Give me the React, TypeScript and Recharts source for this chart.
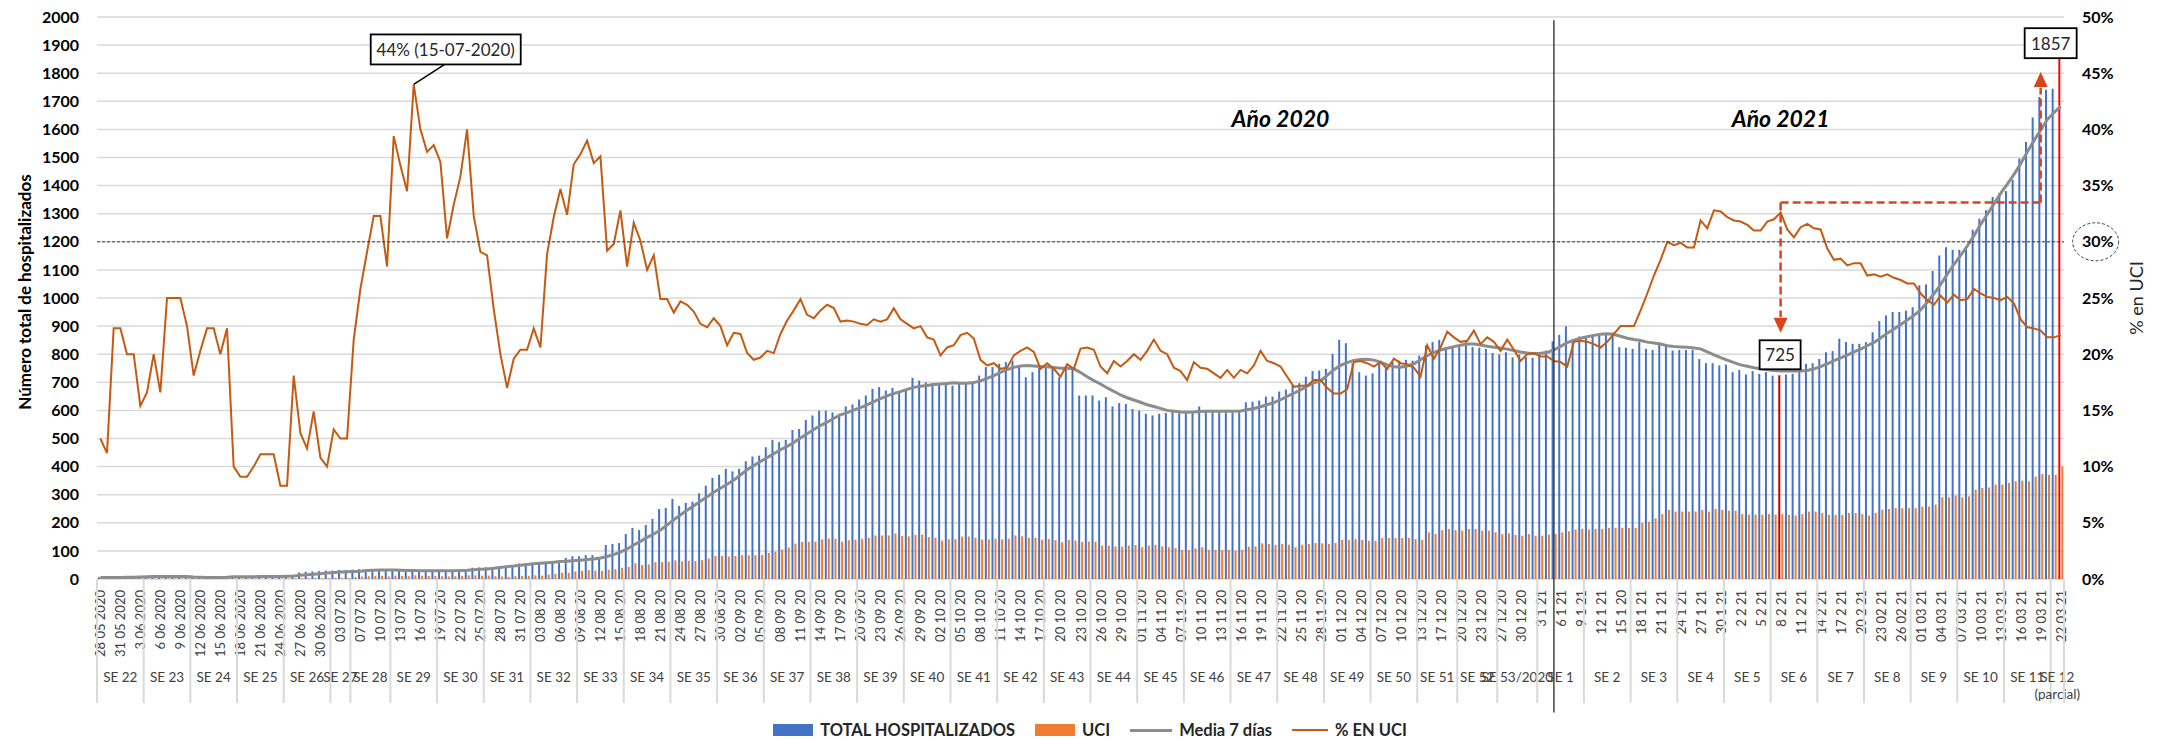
import React from 'react';
import {
  ComposedChart, Bar, Line, XAxis, YAxis, CartesianGrid, Legend, Cell, Label,
  ReferenceLine, ReferenceDot,
} from 'recharts';

const FONT = 'Lato, "Liberation Sans", sans-serif';
const BLUE = '#4472C4';
const ORANGE = '#ED7D31';
const GRAY = '#8c8c8c';
const PCT_COLOR = '#C55A11';
const ARROW = '#D9441A';

// shown date labels (one every 3rd category)
const TICK_LABELS = [
  '28 05 2020', '31 05 2020', '3 06 2020', '6 06 2020', '9 06 2020', '12 06 2020', '15 06 2020', '18 06 2020',
  '21 06 2020', '24 06 2020', '27 06 2020', '30 06 2020', '03 07 20', '07 07 20', '10 07 20', '13 07 20',
  '16 07 20', '19 07 20', '22 07 20', '25 07 20', '28 07 20', '31 07 20', '03 08 20', '06 08 20', '09 08 20',
  '12 08 20', '15 08 20', '18 08 20', '21 08 20', '24 08 20', '27 08 20', '30 08 20', '02 09 20', '05 09 20',
  '08 09 20', '11 09 20', '14 09 20', '17 09 20', '20 09 20', '23 09 20', '26 09 20', '29 09 20', '02 10 20',
  '05 10 20', '08 10 20', '11 10 20', '14 10 20', '17 10 20', '20 10 20', '23 10 20', '26 10 20', '29 10 20',
  '01 11 20', '04 11 20', '07 11 20', '10 11 20', '13 11 20', '16 11 20', '19 11 20', '22 11 20', '25 11 20',
  '28 11 20', '01 12 20', '04 12 20', '07 12 20', '10 12 20', '13 12 20', '17 12 20', '20 12 20', '23 12 20',
  '27 12 20', '30 12 20', '3 1 21', '6 1 21', '9 1 21', '12 1 21', '15 1 20', '18 1 21', '21 1 21', '24 1 21',
  '27 1 21', '30 1 21', '2 2 21', '5 2 21', '8 2 21', '11 2 21', '14 2 21', '17 2 21', '20 2 21', '23 02 21',
  '26 02 21', '01 03 21', '04 03 21', '07 03 21', '10 03 21', '13 03 21', '16 03 21', '19 03 21', '22 03 21',
];

const WEEK_LABELS = [
  'SE 22', 'SE 23', 'SE 24', 'SE 25', 'SE 26', 'SE 27', 'SE 28', 'SE 29', 'SE 30', 'SE 31', 'SE 32', 'SE 33',
  'SE 34', 'SE 35', 'SE 36', 'SE 37', 'SE 38', 'SE 39', 'SE 40', 'SE 41', 'SE 42', 'SE 43', 'SE 44', 'SE 45',
  'SE 46', 'SE 47', 'SE 48', 'SE 49', 'SE 50', 'SE 51', 'SE 52', 'SE 53/2020', 'SE 1', 'SE 2', 'SE 3', 'SE 4',
  'SE 5', 'SE 6', 'SE 7', 'SE 8', 'SE 9', 'SE 10', 'SE 11', 'SE 12',
];
const WEEK_SIZES = [
  7, 7, 7, 7, 7, 3, 6, 7, 7, 7, 7, 7, 7, 7, 7, 7, 7, 7, 7, 7, 7, 7, 7, 7, 7, 7, 7, 7, 7, 6, 6, 6,
  7, 7, 7, 7, 7, 7, 7, 7, 7, 7, 7, 2,
];

const TOTAL = [
  6, 7, 7, 7, 8, 8, 8, 10, 9, 9,
  10, 9, 8, 9, 7, 6, 6, 6, 7, 7,
  8, 8, 8, 9, 9, 9, 9, 10, 10, 11,
  23, 26, 27, 28, 30, 30, 32, 32, 33, 35,
  34, 34, 34, 32, 30, 30, 29, 30, 30, 29,
  28, 27, 30, 30, 31, 33, 40, 41, 42, 40,
  45, 47, 50, 55, 56, 58, 56, 56, 56, 65,
  75, 81, 81, 85, 85, 77, 121, 125, 128, 160,
  182, 174, 192, 214, 249, 253, 285, 260, 271, 275,
  305, 332, 360, 371, 392, 383, 392, 419, 436, 439,
  469, 495, 487, 495, 530, 534, 566, 582, 599, 599,
  593, 588, 614, 621, 639, 653, 677, 683, 671, 680,
  665, 671, 716, 706, 700, 697, 694, 694, 688, 694,
  694, 694, 724, 754, 754, 766, 772, 777, 754, 718,
  736, 754, 754, 748, 718, 748, 748, 653, 653, 653,
  635, 647, 614, 626, 623, 605, 599, 588, 582, 588,
  591, 602, 590, 590, 597, 614, 599, 599, 599, 593,
  593, 599, 629, 631, 635, 649, 649, 667, 674, 688,
  697, 720, 740, 742, 748, 801, 851, 839, 768, 736,
  724, 732, 766, 754, 772, 777, 780, 777, 795, 831,
  843, 851, 825, 825, 825, 843, 825, 823, 819, 804,
  799, 807, 789, 799, 789, 787, 804, 813, 846, 869,
  899, 851, 863, 863, 866, 873, 875, 878, 825, 823,
  819, 843, 819, 815, 837, 831, 813, 815, 815, 815,
  783, 768, 768, 760, 763, 736, 744, 728, 740, 730,
  736, 724, 725, 728, 730, 748, 766, 768, 783, 807,
  811, 855, 843, 837, 837, 843, 878, 918, 938, 950,
  950, 955, 967, 1045, 1048, 1096, 1151, 1181, 1172, 1172,
  1181, 1243, 1282, 1312, 1359, 1373, 1381, 1421, 1496, 1555,
  1642, 1715, 1741, 1745, 1857,
];

const UCI = [
  1, 1, 2, 2, 2, 2, 1, 2, 2, 2,
  2, 2, 2, 2, 1, 1, 1, 1, 1, 2,
  1, 1, 1, 1, 1, 1, 1, 1, 1, 2,
  3, 3, 4, 3, 3, 4, 4, 4, 7, 9,
  10, 11, 11, 9, 12, 11, 10, 13, 12, 11,
  11, 10, 9, 10, 11, 13, 13, 12, 12, 10,
  9, 8, 10, 11, 11, 13, 12, 15, 18, 22,
  22, 27, 29, 32, 30, 29, 33, 35, 40, 43,
  56, 50, 52, 60, 60, 61, 66, 63, 65, 64,
  67, 73, 82, 82, 80, 82, 85, 84, 85, 86,
  93, 97, 105, 112, 126, 132, 132, 133, 141, 144,
  143, 133, 138, 140, 143, 147, 155, 155, 155, 162,
  153, 152, 157, 158, 149, 147, 137, 141, 142, 151,
  151, 147, 140, 141, 143, 141, 143, 155, 152, 147,
  147, 140, 142, 138, 131, 139, 137, 132, 133, 132,
  119, 119, 116, 115, 119, 121, 113, 119, 121, 116,
  113, 110, 104, 103, 109, 113, 104, 104, 103, 104,
  101, 104, 115, 116, 127, 125, 121, 125, 122, 113,
  122, 125, 128, 127, 125, 128, 139, 139, 142, 139,
  136, 136, 146, 146, 146, 146, 146, 142, 139, 166,
  160, 174, 178, 174, 172, 178, 178, 172, 172, 166,
  160, 163, 157, 154, 160, 154, 154, 158, 160, 166,
  170, 176, 178, 176, 178, 178, 182, 182, 182, 182,
  182, 199, 204, 216, 231, 246, 240, 240, 240, 240,
  246, 240, 249, 246, 243, 243, 231, 229, 229, 229,
  231, 229, 231, 228, 226, 231, 240, 240, 235, 228,
  228, 228, 235, 235, 231, 226, 235, 247, 249, 252,
  252, 252, 252, 258, 258, 265, 291, 291, 297, 291,
  294, 318, 324, 326, 336, 336, 342, 348, 350, 348,
  364, 374, 371, 371, 400,
];

const MEDIA = [
  5, 5, 5, 5, 6, 6, 7, 8, 9, 9,
  9, 9, 9, 9, 7, 6, 5, 5, 5, 6,
  8, 8, 8, 8, 9, 9, 9, 9, 10, 11,
  13, 15, 17, 19, 21, 23, 25, 26, 27, 28,
  30, 31, 32, 32, 32, 31, 30, 30, 29, 29,
  29, 29, 29, 29, 30, 31, 33, 35, 36, 38,
  41, 44, 46, 49, 52, 54, 56, 58, 60, 62,
  63, 65, 67, 69, 71, 75, 80, 87, 96, 107,
  121, 134, 148, 160, 174, 192, 211, 228, 245, 261,
  277, 293, 309, 323, 337, 352, 370, 389, 404, 418,
  432, 446, 460, 472, 486, 502, 517, 532, 546, 558,
  572, 584, 592, 601, 610, 620, 631, 642, 652, 660,
  667, 675, 682, 686, 689, 692, 694, 696, 698, 697,
  697, 699, 705, 714, 724, 735, 745, 753, 758, 760,
  758, 756, 755, 753, 750, 750, 748, 735, 720, 706,
  694, 680, 668, 655, 645, 637, 629, 620, 614, 607,
  600, 597, 594, 593, 594, 596, 597, 597, 597, 597,
  597, 598, 602, 607, 613, 620, 628, 638, 650, 661,
  673, 686, 698, 705, 725, 745, 760, 770, 778, 781,
  782, 779, 772, 762, 755, 754, 758, 766, 780, 795,
  806, 815, 821, 827, 832, 836, 836, 833, 828, 825,
  822, 818, 813, 808, 804, 802, 803, 806, 815, 828,
  841, 850, 857, 862, 867, 871, 873, 870, 864, 857,
  852, 849, 843, 840, 836, 830, 827, 826, 825, 822,
  819, 808, 798, 788, 779, 770, 762, 757, 752, 748,
  745, 742, 740, 740, 740, 740, 742, 748, 756, 766,
  777, 787, 797, 808, 818, 830, 842, 858, 875, 890,
  906, 922, 938, 958, 985, 1015, 1048, 1085, 1120, 1152,
  1185, 1222, 1262, 1298, 1335, 1372, 1405, 1440, 1478, 1520,
  1560, 1598, 1635, 1660, 1682,
];

const PCT = [
  12.5, 11.2, 22.3, 22.3, 20, 20, 15.4, 16.6, 20, 16.6,
  25, 25, 25, 22.5, 18.1, 20.3, 22.3, 22.3, 20, 22.3,
  10, 9.1, 9.1, 10, 11.1, 11.1, 11.1, 8.3, 8.3, 18.1,
  13, 11.6, 14.9, 10.8, 10, 13.3, 12.5, 12.5, 21.3, 25.8,
  29.1, 32.3, 32.3, 27.8, 39.4, 36.8, 34.5, 44, 40, 38,
  38.6, 37.1, 30.3, 33.3, 35.8, 40, 32.3, 29.1, 28.8, 24,
  20, 17, 19.6, 20.4, 20.4, 22.3, 20.6, 28.9, 32.2, 34.7,
  32.4, 36.9, 37.8, 39, 37, 37.6, 29.2, 29.8, 32.8, 27.8,
  31.7, 30.1, 27.5, 28.8, 24.9, 24.9, 23.7, 24.7, 24.4, 23.8,
  22.7, 22.4, 23.2, 22.5, 20.8, 21.9, 21.8, 20.1, 19.5, 19.7,
  20.3, 20.1, 21.8, 23, 23.9, 24.9, 23.5, 23.2, 23.9, 24.4,
  24.1, 22.9, 23, 22.9, 22.7, 22.6, 23.1, 22.9, 23.1, 24.1,
  23.1, 22.7, 22.3, 22.5, 21.5, 21.3, 19.9, 20.6, 20.8, 21.7,
  21.9, 21.4, 19.5, 19, 19.2, 18.7, 18.8, 19.9, 20.3, 20.6,
  20.2, 18.7, 19.2, 18.7, 18, 19.1, 18.7, 20.5, 20.6, 20.4,
  18.9, 18.3, 19.4, 18.9, 19.4, 20, 19.5, 20.3, 21.3, 20.3,
  20, 18.8, 18.5, 17.7, 19.3, 18.8, 18.7, 18.3, 17.9, 18.6,
  17.9, 18.6, 18.3, 19, 20.3, 19.4, 19.2, 18.9, 18, 17.1,
  17.2, 17.2, 17.7, 17.7, 17, 16.5, 16.5, 16.9, 19.3, 19.4,
  19.2, 18.9, 19.3, 18.7, 19.6, 19.2, 19.1, 18.8, 18, 20.8,
  19.6, 20.6, 22, 21.5, 21.1, 21.2, 22.1, 20.9, 21.5, 21.1,
  20.3, 21.3, 20.4, 19.4, 20, 20.1, 19.8, 19.8, 19.4, 19.3,
  18.9, 21.1, 21.2, 21.1, 20.9, 20.6, 21.1, 21.8, 22.5, 22.5,
  22.5, 23.9, 25.4, 27, 28.4, 30, 29.7, 29.9, 29.5, 29.5,
  31.9, 31.2, 32.8, 32.7, 32.2, 31.9, 31.8, 31.5, 31, 31,
  31.8, 32, 32.6, 31.1, 30.4, 31.3, 31.6, 31.2, 31.1, 29.4,
  28.4, 28.5, 27.9, 28.1, 28.1, 27, 27.1, 26.9, 27.1, 26.8,
  26.6, 26.3, 26.3, 25.4, 24.8, 24.4, 25.2, 24.6, 25.3, 24.8,
  24.9, 25.8, 25.4, 25.1, 25, 24.8, 25.1, 24.5, 23.1, 22.4,
  22.3, 22.1, 21.5, 21.5, 21.7,
];

// highlighted bars: 8 feb 2021 (minimum) and 22 mar 2021 (last)
const HIGHLIGHT: Record<number, string> = { 252: '#C00000', 294: '#FF0000' };

const data = TOTAL.map((t, i) => ({ i, total: t, uci: UCI[i], media: MEDIA[i], pct: PCT[i] }));

const LEFT_TICKS = Array.from({ length: 21 }, (_, k) => k * 100);
const RIGHT_TICKS = Array.from({ length: 11 }, (_, k) => k * 5);
const LEGEND_ORDER = ['total', 'uci', 'media', 'pct'];

const W = 2164;
const H = 740;
const LEFT_W = 97;
const RIGHT_W = 100;
const N = TOTAL.length;
const BW = (W - LEFT_W - RIGHT_W) / N;

const groupStart: Record<number, number> = {};
{
  let s = 0;
  WEEK_SIZES.forEach((n, g) => {
    groupStart[s] = g;
    s += n;
  });
}

const renderDateTick = (props: any) => {
  const { x, y, payload } = props;
  const i = Number(payload.value);
  const out: React.ReactNode[] = [];
  if (i % 3 === 0) {
    out.push(
      <text key="d" transform={`translate(${x},${y + 11}) rotate(-90)`} textAnchor="end"
        dominantBaseline="central" fontFamily={FONT} fontSize={13} fill="#404040">
        {TICK_LABELS[i / 3]}
      </text>,
    );
  }
  const g = groupStart[i];
  if (g !== undefined) {
    const x0 = x - BW / 2;
    const cx = x0 + (WEEK_SIZES[g] * BW) / 2;
    out.push(<line key="s" x1={x0} x2={x0} y1={y} y2={y + 124} stroke="#d9d9d9" strokeWidth={2} />);
    out.push(
      <text key="w" x={cx} y={y + 98} textAnchor="middle" dominantBaseline="central"
        fontFamily={FONT} fontSize={13.5} fill="#404040">{WEEK_LABELS[g]}</text>,
    );
    if (g === WEEK_LABELS.length - 1) {
      out.push(
        <text key="p" x={cx} y={y + 115} textAnchor="middle" dominantBaseline="central"
          fontFamily={FONT} fontSize={13.5} fill="#404040">(parcial)</text>,
      );
    }
  }
  if (i === N - 1) {
    out.push(<line key="e" x1={x + BW / 2} x2={x + BW / 2} y1={y} y2={y + 124} stroke="#d9d9d9" strokeWidth={2} />);
  }
  return <g>{out}</g>;
};

const renderLegend = (props: any) => {
  const items = [...(props.payload || [])].sort(
    (a: any, b: any) => LEGEND_ORDER.indexOf(a.dataKey) - LEGEND_ORDER.indexOf(b.dataKey),
  );
  return (
    <div style={{
      display: 'flex', justifyContent: 'center', alignItems: 'center', height: 20, paddingLeft: 36,
      fontFamily: FONT, fontSize: 16.5, fontWeight: 700, color: '#262626',
    }}>
      {items.map((e: any) => {
        const isBar = e.dataKey === 'total' || e.dataKey === 'uci';
        return (
          <div key={e.dataKey} style={{ display: 'flex', alignItems: 'center', marginRight: 20 }}>
            {isBar
              ? <span style={{ display: 'inline-block', width: 40, height: 12, background: e.color }} />
              : <span style={{ display: 'inline-block', width: e.dataKey === 'media' ? 42 : 36, height: e.dataKey === 'media' ? 3 : 2, background: e.color }} />}
            <span style={{ marginLeft: 7 }}>{e.value}</span>
          </div>
        );
      })}
    </div>
  );
};

const leftTitle = () => (
  <text x={24} y={292} transform="rotate(-90, 24, 292)" textAnchor="middle" dominantBaseline="central"
    fontFamily={FONT} fontSize={17} fontWeight={700} fill="#000">Número total de hospitalizados</text>
);
const rightTitle = () => (
  <text x={2136} y={298} transform="rotate(-90, 2136, 298)" textAnchor="middle" dominantBaseline="central"
    fontFamily={FONT} fontSize={18} fill="#262626">% en UCI</text>
);

const boxText = (x: number, y: number, w: number, h: number, text: string) => (
  <g>
    <rect x={x} y={y} width={w} height={h} fill="#fff" stroke="#000" strokeWidth={1.8} />
    <text x={x + w / 2} y={y + h / 2} textAnchor="middle" dominantBaseline="central"
      fontFamily={FONT} fontSize={17} fill="#262626">{text}</text>
  </g>
);

const yearText = (label: string) => (p: any) => (
  <text x={p.cx} y={p.cy} textAnchor="middle" dominantBaseline="central" fontFamily={FONT}
    fontSize={23} fontWeight={700} fontStyle="italic" fill="#000">{label}</text>
);

const tickStyle = { fontFamily: FONT, fontSize: 16, fontWeight: 700, fill: '#000' };

export default function App() {
  return (
    <div style={{ position: 'fixed', left: 0, top: 0, width: W, height: H, background: '#fff' }}>
      <ComposedChart width={W} height={H} data={data} margin={{ top: 17, right: 0, bottom: 0, left: 0 }} barGap={1}>
        <CartesianGrid yAxisId="left" vertical={false} stroke="#d9d9d9" strokeWidth={1.5} />
        <XAxis dataKey="i" type="category" interval={0} height={141} tickLine={false} axisLine={false}
          tickSize={0} tickMargin={0} tick={renderDateTick} />
        <YAxis yAxisId="left" width={LEFT_W} domain={[0, 2000]} ticks={LEFT_TICKS} interval={0}
          tickLine={false} axisLine={false} tickSize={0} tickMargin={18} tick={tickStyle}
          label={<Label content={leftTitle} />} />
        <YAxis yAxisId="right" orientation="right" width={RIGHT_W} domain={[0, 50]} ticks={RIGHT_TICKS}
          interval={0} tickLine={false} axisLine={false} tickSize={0} tickMargin={18} tick={tickStyle}
          tickFormatter={(v: number) => `${v}%`} label={<Label content={rightTitle} />} />
        <Legend verticalAlign="bottom" height={20} content={renderLegend} />
        <Bar yAxisId="left" dataKey="total" name="TOTAL HOSPITALIZADOS" fill={BLUE} barSize={2} isAnimationActive={false}>
          {data.map((d) => <Cell key={d.i} fill={HIGHLIGHT[d.i] || BLUE} />)}
        </Bar>
        <Bar yAxisId="left" dataKey="uci" name="UCI" fill={ORANGE} barSize={2} isAnimationActive={false} />
        <Line yAxisId="left" dataKey="media" name="Media 7 días" stroke={GRAY} strokeWidth={3} dot={false}
          activeDot={false} isAnimationActive={false} />
        <Line yAxisId="right" dataKey="pct" name="% EN UCI" stroke={PCT_COLOR} strokeWidth={2} dot={false}
          activeDot={false} isAnimationActive={false} />

        <ReferenceLine yAxisId="left" y={1200} stroke="#404040" strokeWidth={1} strokeDasharray="3 2" />
        <ReferenceLine yAxisId="left" segment={[{ x: 218, y: 1988 }, { x: 218, y: -475 }]} ifOverflow="visible"
          stroke="#262626" strokeWidth={1.3} />

        <ReferenceLine yAxisId="right" segment={[{ x: 252, y: 33.5 }, { x: 291, y: 33.5 }]} stroke={ARROW}
          strokeWidth={2.5} strokeDasharray="8 4" ifOverflow="visible" />
        <ReferenceLine yAxisId="right" segment={[{ x: 252, y: 33.5 }, { x: 252, y: 23.3 }]} stroke={ARROW}
          strokeWidth={2.5} strokeDasharray="8 4" ifOverflow="visible" />
        <ReferenceLine yAxisId="right" segment={[{ x: 291, y: 33.5 }, { x: 291, y: 43.7 }]} stroke={ARROW}
          strokeWidth={2.5} strokeDasharray="8 4" ifOverflow="visible" />
        <ReferenceDot yAxisId="right" x={252} y={21.9} ifOverflow="visible"
          shape={(p: any) => <path d={`M${p.cx},${p.cy} L${p.cx - 7},${p.cy - 15} L${p.cx + 7},${p.cy - 15} Z`} fill={ARROW} />} />
        <ReferenceDot yAxisId="right" x={291} y={45.1} ifOverflow="visible"
          shape={(p: any) => <path d={`M${p.cx},${p.cy} L${p.cx - 7},${p.cy + 15} L${p.cx + 7},${p.cy + 15} Z`} fill={ARROW} />} />

        <ReferenceDot yAxisId="right" x={294} y={30} ifOverflow="visible"
          shape={(p: any) => <ellipse cx={p.cx + 35} cy={p.cy} rx={23} ry={19} fill="none" stroke="#404040" strokeWidth={1} strokeDasharray="3 2" />} />

        <ReferenceDot yAxisId="right" x={47} y={44} ifOverflow="visible"
          shape={(p: any) => (
            <g>
              <line x1={p.cx} y1={p.cy} x2={p.cx + 31} y2={p.cy - 20} stroke="#000" strokeWidth={1.5} />
              {boxText(p.cx - 43, p.cy - 50, 150, 30, '44% (15-07-2020)')}
            </g>
          )} />
        <ReferenceDot yAxisId="left" x={252} y={725} ifOverflow="visible"
          shape={(p: any) => boxText(p.cx - 21, p.cy - 35, 41, 29, '725')} />
        <ReferenceDot yAxisId="left" x={294} y={1857} ifOverflow="visible"
          shape={(p: any) => boxText(p.cx - 36, p.cy - 29, 52, 30, '1857')} />

        <ReferenceDot yAxisId="left" x={177} y={1640} ifOverflow="visible" shape={yearText('Año 2020')} />
        <ReferenceDot yAxisId="left" x={252} y={1640} ifOverflow="visible" shape={yearText('Año 2021')} />
      </ComposedChart>
    </div>
  );
}
